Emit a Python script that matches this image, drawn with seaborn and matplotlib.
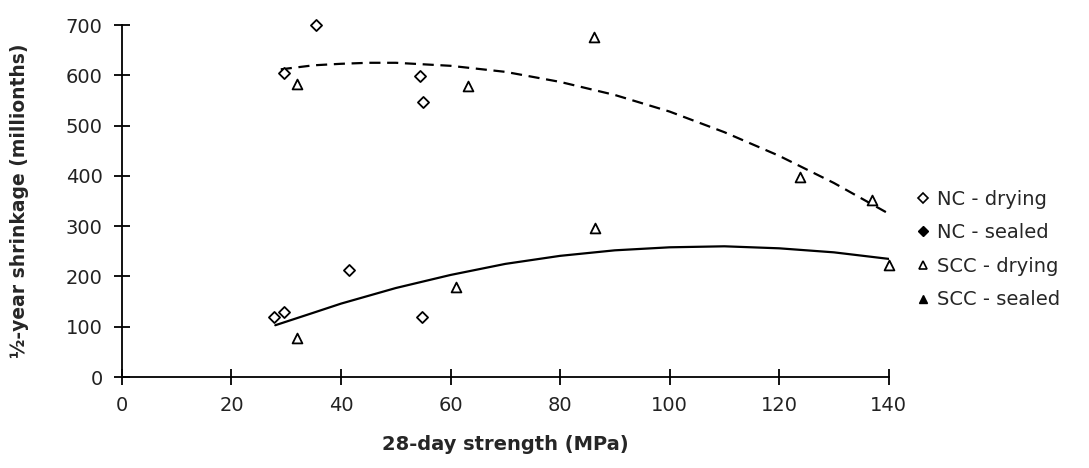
import numpy as np
import pandas as pd
import matplotlib
matplotlib.use("Agg")
import matplotlib.pyplot as plt
from matplotlib.lines import Line2D
import seaborn as sns

# points
nc_dry_x = [35.5, 29.5, 54.5, 55.0]
nc_dry_y = [700, 605, 598, 548]
nc_seal_x = [41.5, 54.8, 27.8, 29.5]
nc_seal_y = [212, 119, 119, 129]
scc_dry_x = [32.0, 63.2, 86.2, 123.8, 137.0]
scc_dry_y = [583, 578, 676, 398, 352]
scc_seal_x = [32.0, 61.0, 86.4, 140.0]
scc_seal_y = [77, 179, 296, 222]

# trend lines
dry_fit_x = [29, 35, 40, 45, 50, 60, 70, 80, 90, 100, 110, 120, 130, 140]
dry_fit_y = [612, 620, 623, 625, 625, 619, 607, 587, 561, 528, 487, 440, 386, 325]
seal_fit_x = [28, 35, 40, 50, 60, 70, 80, 90, 100, 110, 120, 130, 140]
seal_fit_y = [103, 128, 146, 177, 203, 225, 241, 252, 258, 260, 256, 248, 235]

xticks = list(range(0, 141, 20))
yticks = list(range(0, 701, 100))

sns.set_theme(style="white")
plt.rcParams['font.family'] = ['DejaVu Sans']

fig = plt.figure(figsize=(10.89, 4.68), dpi=100)
ax = fig.add_axes([0.112, 0.1944, 0.704, 0.752])

sns.lineplot(x=dry_fit_x, y=dry_fit_y, ax=ax, color='black', lw=1.6,
             linestyle=(0, (5, 3)), sort=False, estimator=None)
sns.lineplot(x=seal_fit_x, y=seal_fit_y, ax=ax, color='black', lw=1.6,
             sort=False, estimator=None)

kw = dict(ax=ax, edgecolor='black', linewidth=1.3, clip_on=False, zorder=3)
sns.scatterplot(x=nc_dry_x, y=nc_dry_y, marker='D', s=32, facecolor='white', **kw)
sns.scatterplot(x=nc_seal_x, y=nc_seal_y, marker='D', s=32, facecolor='white', **kw)
sns.scatterplot(x=scc_dry_x, y=scc_dry_y, marker='^', s=50, facecolor='white', **kw)
sns.scatterplot(x=scc_seal_x, y=scc_seal_y, marker='^', s=50, facecolor='white', **kw)

ax.set_xlim(0, 140)
ax.set_ylim(0, 700)
ax.set_xticks(xticks)
ax.set_yticks(yticks)
ax.tick_params(direction='inout', length=12, width=1.3, color='black',
               labelsize=14, labelcolor='#222222', left=True, bottom=True, pad=8)
for side in ['top', 'right']:
    ax.spines[side].set_visible(False)
for side in ['left', 'bottom']:
    ax.spines[side].set_color('black')
    ax.spines[side].set_linewidth(1.3)

ax.set_xlabel('28-day strength (MPa)', fontsize=14, fontweight='bold', labelpad=14)
ax.set_ylabel('½-year shrinkage (millionths)', fontsize=13.5, fontweight='bold', labelpad=26)

handles = [
    Line2D([], [], ls='none', marker='D', ms=5, mfc='white', mec='black', mew=1.2),
    Line2D([], [], ls='none', marker='D', ms=5, mfc='black', mec='black'),
    Line2D([], [], ls='none', marker='^', ms=6, mfc='white', mec='black', mew=1.2),
    Line2D([], [], ls='none', marker='^', ms=6, mfc='black', mec='black'),
]
labels = ['NC - drying', 'NC - sealed', 'SCC - drying', 'SCC - sealed']
fig.legend(handles, labels, loc='center left', bbox_to_anchor=(0.835, 0.467),
           frameon=False, fontsize=14, handlelength=0.6, handletextpad=0.4,
           labelspacing=0.75, borderaxespad=0)

fig.savefig('out.png', dpi=100)
